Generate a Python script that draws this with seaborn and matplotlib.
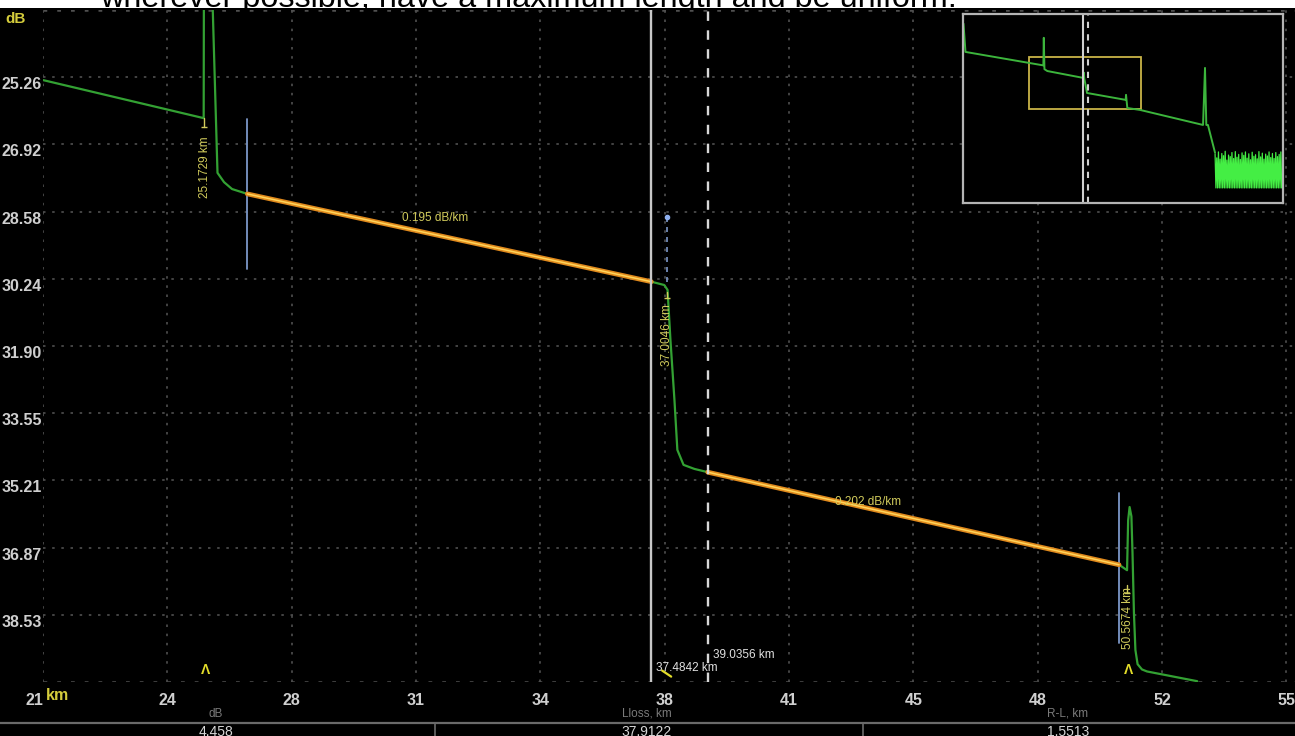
import numpy as np
import pandas as pd
import matplotlib
matplotlib.use("Agg")
import matplotlib.pyplot as plt
import matplotlib.transforms as mtransforms
from matplotlib.lines import Line2D
from matplotlib.patches import Rectangle
import seaborn as sns

# ---------------- view window ----------------
x_lo, x_hi = 20.75, 55.19                # km
x_tick_start, x_tick_step = 20.75, 3.42
x_tick_labels = ["21", "24", "28", "31", "34", "38", "41", "45", "48", "52", "55"]
y_top, y_bottom = 23.60, 40.19           # dB, axis grows downward
y_tick_values = [25.26, 26.92, 28.58, 30.24, 31.90, 33.55, 35.21, 36.87, 38.53]

# ---------------- trace pieces (km, dB) ----------------
lead_km = [20.75, 25.17, 25.18, 25.25, 25.32, 25.42, 25.55, 25.73, 25.95, 26.37]
lead_db = [25.33, 26.27, 21.00, 20.40, 21.00, 23.60, 27.62, 27.85, 28.02, 28.14]

mid_km = [37.84, 37.93, 38.01, 38.12, 38.20, 38.37, 38.67, 39.0356]
mid_db = [30.39, 30.51, 31.75, 33.23, 34.46, 34.83, 34.93, 35.01]

tail_km = [50.57, 50.60, 50.64, 50.69, 50.72, 50.76, 50.80, 50.86, 50.98, 51.12, 52.50]
tail_db = [37.43, 36.20, 35.87, 36.10, 37.00, 38.50, 39.40, 39.75, 39.88, 39.93, 40.17]

# ---------------- fitted sections ----------------
fit1_start_km, fit1_start_db, fit1_slope = 26.37, 28.14, 0.195
fit2_start_db, fit2_slope, fit2_end_km = 35.01, 0.202, 50.35
cursor_a_km = 37.4842      # solid cursor
cursor_b_km = 39.0356      # dashed cursor
loss_point_km = 37.9122

event_km = [25.1729, 50.5674]
event_text = ["25.1729 km", "50.5674 km"]
event2_text = "37.0046 km"
fit_text = ["0.195 dB/km", "0.202 dB/km"]

info_headers = ["dB", "Lloss, km", "R-L, km"]
info_values = ["4.458", "37.9122", "1.5513"]

# ---------------- overview trace (km, dB) ----------------
ov_km = [0.6, 1.2, 25.17, 25.30, 25.50, 26.40, 37.50, 37.60, 37.75, 38.60,
         50.50, 50.60, 51.00, 54.90, 74.30, 74.90, 75.30, 75.80, 78.00]
ov_db = [13.0, 22.0, 26.3, 17.5, 27.5, 28.1, 30.3, 28.6, 30.4, 35.1,
         37.3, 35.7, 39.9, 40.5, 45.3, 27.1, 45.3, 45.3, 54.2]
noise_start_km, noise_end_km = 78.0, 98.5
noise_floor_db = 65.4
noise_tops = [54.6, 55.8, 53.9, 56.2, 54.4, 55.1, 53.7, 56.5, 54.9, 55.4,
              54.1, 56.0, 53.8, 55.6, 54.7, 56.3, 54.2, 55.0, 53.9, 55.9,
              54.5, 56.4, 54.0, 55.3, 54.8, 56.1, 53.8, 55.5, 54.3, 56.2,
              54.6, 55.2, 53.9, 55.7, 54.4, 56.0, 54.1, 55.4, 54.7, 53.9]
ov_x_range = (0.44, 98.9)
ov_y_range = (70.2, 9.9)

# ---------------- style ----------------
sns.set_theme(style="dark", rc={
    "figure.facecolor": "black",
    "axes.facecolor": "black",
    "axes.edgecolor": "black",
    "text.color": "#d0d0d0",
    "xtick.color": "#c8c8c8",
    "ytick.color": "#c8c8c8",
})
plt.rcParams["font.family"] = ["Liberation Sans", "DejaVu Sans"]

GREEN = "#33a133"
YELLOW = "#d2cc5c"
BLUE = "#7b97c8"
GRID = "#505050"

W, H = 1295, 736
fig = plt.figure(figsize=(W / 100, H / 100), dpi=100)


def fx(px):
    return px / W


def fy(py):
    return 1 - py / H


# page strip with the sentence above the screen
fig.add_artist(Rectangle((0, fy(8)), 1, 1 - fy(8), transform=fig.transFigure,
                         facecolor="white", edgecolor="none", zorder=-5))
fig.text(fx(100), fy(7), "wherever possible, have a maximum length and be uniform.",
         family="Liberation Sans", fontsize=23.3, color="black", va="baseline",
         ha="left", zorder=-4)
fig.add_artist(Rectangle((0, 0), 1, fy(8), transform=fig.transFigure,
                         facecolor="black", edgecolor="none", zorder=-3))

ax = fig.add_axes([fx(43), fy(682), fx(1295) - fx(43), fy(10) - fy(682)])
ax.set_facecolor("black")

# green raw trace
fit1_end_db = fit1_start_db + fit1_slope * (cursor_a_km - fit1_start_km)
fit2_end_db = fit2_start_db + fit2_slope * (fit2_end_km - cursor_b_km)

pieces = [
    ("lead", lead_km, lead_db),
    ("mid", [cursor_a_km] + mid_km, [fit1_end_db] + mid_db),
    ("tail", [fit2_end_km] + tail_km, [fit2_end_db] + tail_db),
]
trace = pd.concat([pd.DataFrame({"km": k, "dB": d, "piece": p}) for p, k, d in pieces])
sns.lineplot(data=trace, x="km", y="dB", units="piece", estimator=None, sort=False,
             color=GREEN, linewidth=1.6, ax=ax, zorder=4)

# fitted sections (orange with a bright core)
fits = pd.DataFrame({
    "km": [fit1_start_km, cursor_a_km, cursor_b_km, fit2_end_km],
    "dB": [fit1_start_db, fit1_end_db, fit2_start_db, fit2_end_db],
    "piece": ["f1", "f1", "f2", "f2"],
})
sns.lineplot(data=fits, x="km", y="dB", units="piece", estimator=None, sort=False,
             color="#e0891c", linewidth=3.4, ax=ax, zorder=5)
sns.lineplot(data=fits, x="km", y="dB", units="piece", estimator=None, sort=False,
             color="#ffd45a", linewidth=1.1, ax=ax, zorder=6)

# fit end markers
ax.plot([fit1_start_km] * 2, [fit1_start_db - 1.85, fit1_start_db + 1.85],
        color=BLUE, lw=1.3, zorder=3)
ax.plot([fit2_end_km] * 2, [fit2_end_db - 1.77, fit2_end_db + 1.93],
        color=BLUE, lw=1.3, zorder=3)
ax.plot([loss_point_km] * 2, [28.71, 30.40], color=BLUE, lw=1.2,
        linestyle=(0, (3, 3)), zorder=3)
ax.plot([loss_point_km], [28.71], marker="o", ms=3, color="#8fb0f0", zorder=3)

# cursors
ax.axvline(cursor_a_km, color="#c8c8c8", lw=1.7, zorder=7)
ax.axvline(cursor_b_km, color="#d8d8d8", lw=1.7, linestyle=(0, (4, 4)), zorder=7)

# grid
ax.set_xticks(x_tick_start + x_tick_step * np.arange(len(x_tick_labels)))
ax.set_xticklabels(x_tick_labels)
ax.set_yticks(y_tick_values)
ax.set_yticklabels([f"{v:.2f}" for v in y_tick_values])
ax.grid(True, color=GRID, linestyle=(0, (1.5, 4)), linewidth=1.2)
for yy in (y_top, y_bottom):
    ax.axhline(yy, color=GRID, linestyle=(0, (1.5, 4)), linewidth=1.8, zorder=1)
ax.set_xlim(x_lo, x_hi)
ax.set_ylim(y_bottom, y_top)
for s in ax.spines.values():
    s.set_visible(False)
ax.set_xlabel("")
ax.set_ylabel("")
ax.tick_params(axis="x", length=0, pad=8, labelsize=11.5, labelcolor="#cfcfcf")
ax.tick_params(axis="y", length=0, pad=1, labelsize=11.5, labelcolor="#cfcfcf")
for lab in ax.get_xticklabels() + ax.get_yticklabels():
    lab.set_fontweight("bold")
for lab in ax.get_yticklabels():
    lab.set_verticalalignment("top")
ax.get_xticklabels()[0].set_horizontalalignment("right")

fig.text(fx(5), fy(19), "dB", color="#d4cc3c", fontsize=11, fontweight="bold",
         va="center", ha="left")
fig.text(fx(46), fy(696), "km", color="#d4cc3c", fontsize=11.5, fontweight="bold",
         va="center", ha="left")

# event labels
ax.text(event_km[0] + 0.04, 27.48, event_text[0], rotation=90, color=YELLOW,
        fontsize=8.5, ha="center", va="center", zorder=8)
ax.text(event_km[1] + 0.02, 38.61, event_text[1], rotation=90, color=YELLOW,
        fontsize=8.5, ha="center", va="center", zorder=8)
ax.text(37.92, 31.62, event2_text, rotation=90, color=YELLOW,
        fontsize=8.5, ha="center", va="center", zorder=8)
for xk, y0, y1 in [(event_km[0], 26.27, 26.49), (37.92, 30.56, 30.72),
                   (event_km[1], 37.80, 38.00)]:
    ax.plot([xk, xk], [y0, y1], color=YELLOW, lw=1, zorder=8)
    ax.plot([xk], [y1], marker="_", ms=5, color=YELLOW, zorder=8)

ax.text(31.54, 28.74, fit_text[0], color=YELLOW, fontsize=8.5, ha="center",
        va="center", zorder=8)
ax.text(43.45, 35.75, fit_text[1], color=YELLOW, fontsize=8.5, ha="center",
        va="center", zorder=8)

# cursor readouts
ax.text(cursor_b_km + 0.15, 39.53, f"{cursor_b_km:.4f} km", color="#e0e0e0",
        fontsize=8.5, ha="left", va="center", zorder=8)
ax.text(cursor_a_km + 0.13, 39.85, f"{cursor_a_km:.4f} km", color="#e0e0e0",
        fontsize=8.5, ha="left", va="center", zorder=8)

# event markers along the bottom
blend = mtransforms.blended_transform_factory(ax.transData, ax.transAxes)
for xk in event_km:
    ax.text(xk + 0.05, 0.018, "Λ", transform=blend, color="#e2dc2a", fontsize=10,
            fontweight="bold", ha="center", va="center", zorder=8)
ax.plot([37.78, 38.03], [0.017, 0.008], transform=blend, color="#e2dc2a",
        lw=1.6, zorder=8)

# readout strip
fig.add_artist(Line2D([0, 1], [fy(723), fy(723)], transform=fig.transFigure,
                      color="#6a6a6a", lw=1.6))
for xs in (435, 863):
    fig.add_artist(Line2D([fx(xs), fx(xs)], [fy(723), 0], transform=fig.transFigure,
                          color="#6a6a6a", lw=1.2))
for xc, head, val in zip((216, 647, 1068), info_headers, info_values):
    fig.text(fx(xc), fy(714), head, color="#7a7a7a", fontsize=8.5, ha="center",
             va="center")
    fig.text(fx(xc), fy(725), val, color="#d6d6d6", fontsize=10, ha="center",
             va="top")

# ---------------- overview inset ----------------
ax_in = fig.add_axes([fx(963), fy(203), fx(1283) - fx(963), fy(14) - fy(203)],
                     zorder=10)
ax_in.set_facecolor("black")
ov = pd.DataFrame({"km": ov_km, "dB": ov_db})
sns.lineplot(data=ov, x="km", y="dB", estimator=None, sort=False, color="#3cb53c",
             linewidth=1.4, ax=ax_in)
noise_x = np.linspace(noise_start_km, noise_end_km, 2 * len(noise_tops))
noise_y = np.ravel(np.column_stack([noise_tops, [noise_floor_db] * len(noise_tops)]))
noise = pd.DataFrame({"km": noise_x, "dB": noise_y})
sns.lineplot(data=noise, x="km", y="dB", estimator=None, sort=False, color="#44ee44",
             linewidth=0.9, ax=ax_in)
ax_in.axvline(cursor_a_km, color="#d0d0d0", lw=1.5)
ax_in.axvline(cursor_b_km, color="#d0d0d0", lw=1.5, linestyle=(0, (3, 3)))
ax_in.add_patch(Rectangle((x_lo, y_top), x_hi - x_lo, y_bottom - y_top,
                          fill=False, edgecolor="#c9b448", lw=1.3))
ax_in.set_xlim(*ov_x_range)
ax_in.set_ylim(*ov_y_range)
ax_in.set_xticks([])
ax_in.set_yticks([])
ax_in.grid(False)
ax_in.set_xlabel("")
ax_in.set_ylabel("")
for s in ax_in.spines.values():
    s.set_visible(True)
    s.set_color("#b4b4b4")
    s.set_linewidth(1.6)

fig.savefig("out.png", dpi=100, facecolor="black")
